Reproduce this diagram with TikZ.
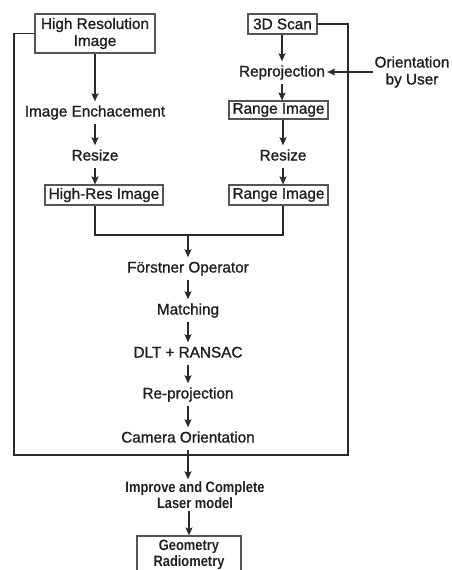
\documentclass[tikz,border=0pt]{standalone}
\usepackage{fontspec}
\setmainfont{Liberation Sans}[FakeBold=1.1]
\newfontface\condbold{Liberation Sans Bold}[FakeStretch=0.86]
\usetikzlibrary{arrows.meta}
\definecolor{ink}{HTML}{1E1E1E}
\definecolor{linegray}{HTML}{2A2A2A}
\definecolor{boxgray}{HTML}{555555}
\tikzset{
  reg/.style={font=\fontsize{15.3}{17}\selectfont, text=ink},
  boldtxt/.style={font=\fontsize{15}{16}\condbold, text=ink},
  boxnode/.style={reg, draw=boxgray, line width=1.1pt, inner sep=0pt, align=center},
  lbl/.style={reg, inner xsep=2pt, inner ysep=4pt, text height=11pt, text depth=3pt},
  arr/.style={draw=linegray, line width=1.3pt, -{Stealth[length=8pt,width=7pt,inset=1.5pt]}},
  ln/.style={draw=linegray, line width=1.3pt},
}
\begin{document}
\begin{tikzpicture}[x=1pt,y=-1pt]
\useasboundingbox (0,0) rectangle (452,570);
\clip (0,0) rectangle (452,570);
\fill[white] (0,0) rectangle (452,570);
% left column
\node[boxnode, minimum width=120pt, minimum height=39pt] (hr) at (95,33.5) {High Resolution\\Image};
\node[lbl] (enh) at (95,112.5) {Image Enchacement};
\node[lbl] (rs1) at (95,156.5) {Resize};
\node[boxnode, minimum width=118pt, minimum height=20pt] (hri) at (104,195) {High-Res Image};
% right column
\node[boxnode, minimum width=69pt, minimum height=20pt] (scan) at (282.5,24) {3D Scan};
\node[lbl] (rep) at (282,72.5) {Reprojection};
\node[reg, align=center, inner sep=1pt] (user) at (412,72) {Orientation\\by User};
\node[boxnode, minimum width=99pt, minimum height=18pt] (rg1) at (278.5,110) {Range Image};
\node[lbl] (rs2) at (283,156.5) {Resize};
\node[boxnode, minimum width=99pt, minimum height=20pt] (rg2) at (278.5,195) {Range Image};
% centre column
\node[lbl] (fo) at (188,268.5) {Förstner Operator};
\node[lbl] (mt) at (188,310.5) {Matching};
\node[lbl] (dlt) at (188,353.5) {DLT + RANSAC};
\node[lbl] (rp) at (188,394.5) {Re-projection};
\node[lbl] (co) at (188,438.5) {Camera Orientation};
\node[boldtxt, align=center, inner sep=2pt] (imp) at (195,495) {Improve and Complete\\Laser model\hspace{11pt}};
\node[boxnode, boldtxt, minimum width=104pt, minimum height=38pt] (geo) at (189,555) {Geometry\\Radiometry};
\coordinate (mg) at (188,235);
\coordinate (fl) at (14,455);
\coordinate (fr) at (348,455);
% connectors
\draw[arr] (hr) -- (enh);
\draw[arr] (enh) -- (rs1);
\draw[arr] (rs1.south) -- (rs1.south |- hri.north);
\draw[arr] (scan.south -| rep) -- (rep);
\draw[arr] (user.west) -- (user.west -| rep.east);
\draw[arr] (rep.south) -- (rep.south |- rg1.north);
\draw[arr] (rs2.north |- rg1.south) -- (rs2.north);
\draw[arr] (rs2.south) -- (rs2.south |- rg2.north);
\draw[ln] (rs1 |- hri.south) |- (mg) -| (rs2 |- rg2.south);
\draw[arr] (mg) -- (fo);
\draw[arr] (fo) -- (mt);
\draw[arr] (mt) -- (dlt);
\draw[arr] (dlt) -- (rp);
\draw[arr] (rp) -- (co);
\draw[arr] (co.south) -- (co.south |- imp.north);
\draw[arr] (imp.south -| geo) -- (geo.north);
\draw[ln] (hr.west) -| (fl) -- (fr) |- (scan.east);
\end{tikzpicture}
\end{document}
